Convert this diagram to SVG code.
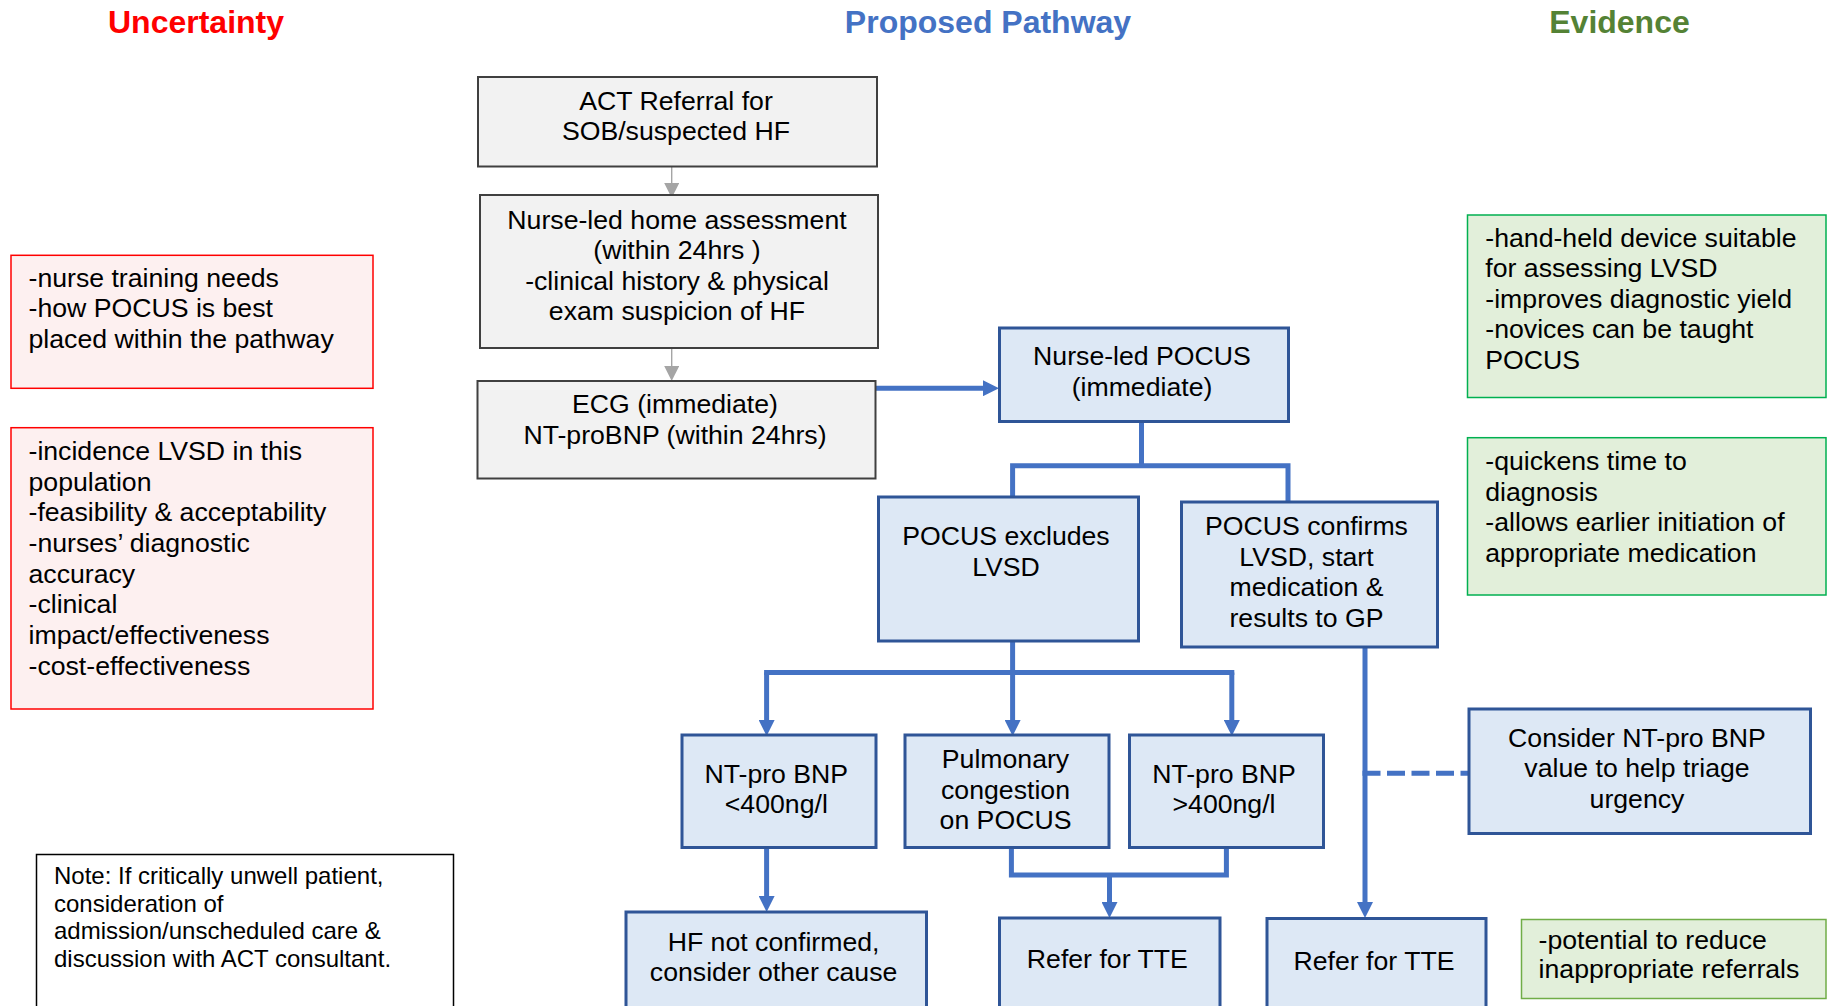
<svg xmlns="http://www.w3.org/2000/svg" width="1829" height="1006" viewBox="0 0 1829 1006">
  <defs>
    <style>
      text { font-family: "Liberation Sans", Arial, sans-serif; font-size: 26.67px; fill: #000; }
      .c { text-anchor: middle; }
      .note { font-size: 24px; }
      .head { font-size: 32px; font-weight: bold; text-anchor: middle; }
      .grey rect { fill: #f2f2f2; stroke: #404040; stroke-width: 2; }
      .step rect { fill: #dde8f5; stroke: #2f5597; stroke-width: 3; }
      .unc rect { fill: #fdf0f0; stroke: #ff0000; stroke-width: 1.5; }
      .evi rect { fill: #e2efda; stroke: #00b050; stroke-width: 1.5; }
      .evi2 rect { fill: #e2efda; stroke: #70ad47; stroke-width: 1.5; }
      .memo rect { fill: #ffffff; stroke: #000000; stroke-width: 1.5; }
      .flow { fill: none; stroke: #4472c4; stroke-width: 5; stroke-linejoin: miter; }
      .sq { stroke-linecap: square; }
      .thin { fill: none; stroke: #a5a5a5; stroke-width: 1.4; }
      .dash { stroke-dasharray: 18 6.5; }
    </style>
    <marker id="arrowBlue" markerUnits="userSpaceOnUse" markerWidth="16" markerHeight="16" viewBox="0 0 16 16" refX="8" refY="8" orient="auto">
      <path d="M0,0 L16,8 L0,16 Z" fill="#4472c4"/>
    </marker>
    <marker id="arrowGrey" markerUnits="userSpaceOnUse" markerWidth="15" markerHeight="15" viewBox="0 0 15 15" refX="7.5" refY="7.5" orient="auto">
      <path d="M0,0 L15,7.5 L0,15 Z" fill="#a5a5a5"/>
    </marker>
  </defs>

  <rect width="1829" height="1006" fill="#ffffff"/>

  <!-- column headings -->
  <g id="headings">
    <text class="head" x="196" y="33" style="fill:#ff0000">Uncertainty</text>
    <text class="head" x="988" y="33" style="fill:#4472c4">Proposed Pathway</text>
    <text class="head" x="1619.5" y="33" style="fill:#548235">Evidence</text>
  </g>

  <!-- connectors -->
  <g id="connectors">
    <path class="thin" d="M671.7,166.5 V190.5" marker-end="url(#arrowGrey)"/>
    <path class="thin" d="M671.7,348 V373.5" marker-end="url(#arrowGrey)"/>
    <path class="flow" d="M876,388.2 H991" marker-end="url(#arrowBlue)"/>
    <path class="flow" d="M1141.5,421.7 V465.8"/>
    <path class="flow" d="M1012.6,497 V465.8 H1288 V502"/>
    <path class="flow" d="M1012.6,641 V672.5"/>
    <path class="flow sq" d="M766.6,672.5 H1231.8"/>
    <path class="flow" d="M766.6,672.5 V728" marker-end="url(#arrowBlue)"/>
    <path class="flow" d="M1012.6,672.5 V728" marker-end="url(#arrowBlue)"/>
    <path class="flow" d="M1231.8,672.5 V728" marker-end="url(#arrowBlue)"/>
    <path class="flow" d="M766.6,848 V904" marker-end="url(#arrowBlue)"/>
    <path class="flow" d="M1011.4,848 V875 H1226.4 V848"/>
    <path class="flow" d="M1109.5,875 V910" marker-end="url(#arrowBlue)"/>
    <path class="flow" d="M1365,647 V910" marker-end="url(#arrowBlue)"/>
    <path class="flow dash" d="M1362.5,773.3 H1468"/>
  </g>

  <!-- uncertainty column -->
  <g id="unc-training" class="unc">
    <rect x="11" y="255.3" width="362" height="133"/>
    <text><tspan x="28.5" y="286.7">-nurse training needs</tspan><tspan x="28.5" y="317.3">-how POCUS is best</tspan><tspan x="28.5" y="348">placed within the pathway</tspan></text>
  </g>
  <g id="unc-research" class="unc">
    <rect x="11" y="427.7" width="362" height="281.3"/>
    <text><tspan x="28.5" y="460">-incidence LVSD in this</tspan><tspan x="28.5" y="490.7">population</tspan><tspan x="28.5" y="521.3">-feasibility &amp; acceptability</tspan><tspan x="28.5" y="552">-nurses’ diagnostic</tspan><tspan x="28.5" y="582.7">accuracy</tspan><tspan x="28.5" y="613.3">-clinical</tspan><tspan x="28.5" y="644">impact/effectiveness</tspan><tspan x="28.5" y="674.7">-cost-effectiveness</tspan></text>
  </g>
  <g id="note" class="memo">
    <rect x="36.5" y="854.5" width="417" height="170"/>
    <text class="note"><tspan x="54" y="884">Note: If critically unwell patient,</tspan><tspan x="54" y="911.6">consideration of</tspan><tspan x="54" y="939.2">admission/unscheduled care &amp;</tspan><tspan x="54" y="966.8">discussion with ACT consultant.</tspan></text>
  </g>

  <!-- pathway -->
  <g id="act-referral" class="grey">
    <rect x="478" y="77" width="399" height="89.5"/>
    <text class="c"><tspan x="676" y="110">ACT Referral for</tspan><tspan x="676" y="140">SOB/suspected HF</tspan></text>
  </g>
  <g id="home-assessment" class="grey">
    <rect x="480" y="195" width="398" height="153"/>
    <text class="c"><tspan x="677" y="228.5">Nurse-led home assessment</tspan><tspan x="677" y="259">(within 24hrs )</tspan><tspan x="677" y="289.5">-clinical history &amp; physical</tspan><tspan x="677" y="320">exam suspicion of HF</tspan></text>
  </g>
  <g id="ecg" class="grey">
    <rect x="477.5" y="381" width="398" height="97.5"/>
    <text class="c"><tspan x="675" y="413.3">ECG (immediate)</tspan><tspan x="675" y="444">NT-proBNP (within 24hrs)</tspan></text>
  </g>
  <g id="pocus" class="step">
    <rect x="999.5" y="328" width="289" height="93.5"/>
    <text class="c"><tspan x="1142" y="365">Nurse-led POCUS</tspan><tspan x="1142" y="395.5">(immediate)</tspan></text>
  </g>
  <g id="pocus-excludes" class="step">
    <rect x="878.5" y="497" width="260" height="144"/>
    <text class="c"><tspan x="1006" y="545">POCUS excludes</tspan><tspan x="1006" y="575.5">LVSD</tspan></text>
  </g>
  <g id="pocus-confirms" class="step">
    <rect x="1181.5" y="502" width="256" height="145"/>
    <text class="c"><tspan x="1306.5" y="535">POCUS confirms</tspan><tspan x="1306.5" y="565.5">LVSD, start</tspan><tspan x="1306.5" y="596">medication &amp;</tspan><tspan x="1306.5" y="626.5">results to GP</tspan></text>
  </g>
  <g id="bnp-low" class="step">
    <rect x="682" y="735" width="194" height="112.5"/>
    <text class="c"><tspan x="776.3" y="782.7">NT-pro BNP</tspan><tspan x="776.3" y="813.3">&lt;400ng/l</tspan></text>
  </g>
  <g id="pulmonary" class="step">
    <rect x="905" y="735" width="204" height="112.5"/>
    <text class="c"><tspan x="1005.5" y="768">Pulmonary</tspan><tspan x="1005.5" y="798.5">congestion</tspan><tspan x="1005.5" y="829">on POCUS</tspan></text>
  </g>
  <g id="bnp-high" class="step">
    <rect x="1129.5" y="735" width="194" height="112.5"/>
    <text class="c"><tspan x="1224" y="782.7">NT-pro BNP</tspan><tspan x="1224" y="813.3">&gt;400ng/l</tspan></text>
  </g>
  <g id="hf-not-confirmed" class="step">
    <rect x="626" y="912" width="300.5" height="120"/>
    <text class="c"><tspan x="773.6" y="950.7">HF not confirmed,</tspan><tspan x="773.6" y="981">consider other cause</tspan></text>
  </g>
  <g id="refer-tte-1" class="step">
    <rect x="999.5" y="918" width="220.5" height="120"/>
    <text class="c" x="1107.3" y="968.3">Refer for TTE</text>
  </g>
  <g id="refer-tte-2" class="step">
    <rect x="1267" y="918.5" width="219" height="120"/>
    <text class="c" x="1374" y="970">Refer for TTE</text>
  </g>
  <g id="triage" class="step">
    <rect x="1469" y="709" width="341.5" height="124.5"/>
    <text class="c"><tspan x="1637" y="746.7">Consider NT-pro BNP</tspan><tspan x="1637" y="777">value to help triage</tspan><tspan x="1637" y="807.5">urgency</tspan></text>
  </g>

  <!-- evidence column -->
  <g id="evi-device" class="evi">
    <rect x="1467.5" y="215" width="358.5" height="182.5"/>
    <text><tspan x="1485.3" y="246.7">-hand-held device suitable</tspan><tspan x="1485.3" y="277.2">for assessing LVSD</tspan><tspan x="1485.3" y="307.7">-improves diagnostic yield</tspan><tspan x="1485.3" y="338.2">-novices can be taught</tspan><tspan x="1485.3" y="368.7">POCUS</tspan></text>
  </g>
  <g id="evi-time" class="evi">
    <rect x="1467.5" y="437.7" width="358.5" height="157.3"/>
    <text><tspan x="1485.3" y="470">-quickens time to</tspan><tspan x="1485.3" y="500.5">diagnosis</tspan><tspan x="1485.3" y="531">-allows earlier initiation of</tspan><tspan x="1485.3" y="561.5">appropriate medication</tspan></text>
  </g>
  <g id="evi-referrals" class="evi2">
    <rect x="1521.5" y="919.5" width="304.5" height="79"/>
    <text><tspan x="1538.6" y="948.5">-potential to reduce</tspan><tspan x="1538.6" y="978">inappropriate referrals</tspan></text>
  </g>
</svg>
